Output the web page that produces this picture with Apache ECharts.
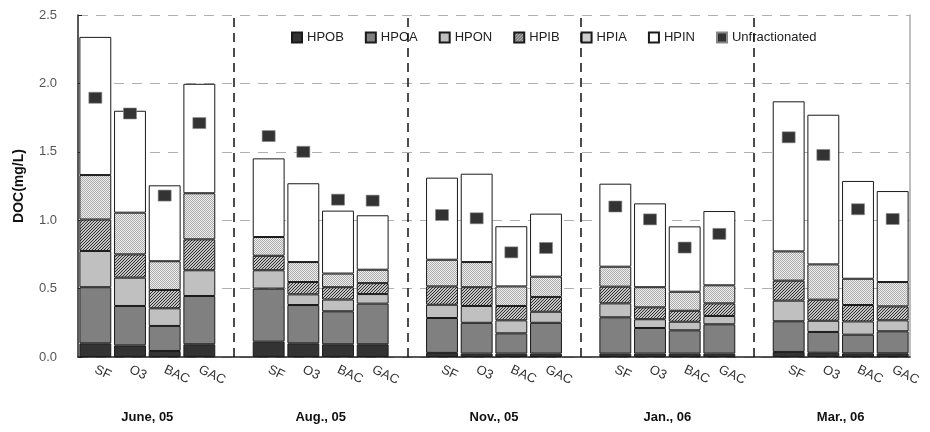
<!DOCTYPE html>
<html>
<head>
<meta charset="utf-8">
<script src="https://cdn.jsdelivr.net/npm/echarts@6/dist/echarts.min.js"></script>
<style>
  html, body { margin: 0; padding: 0; background: #fff; }
  #chart { width: 930px; height: 432px; }
</style>
</head>
<body>
<div id="chart"></div>
<script>
// sampling dates and treatment steps
const groups = ['June, 05', 'Aug., 05', 'Nov., 05', 'Jan., 06', 'Mar., 06'];
const treatments = ['SF', 'O3', 'BAC', 'GAC'];
const fractions = ['HPOB', 'HPOA', 'HPON', 'HPIB', 'HPIA', 'HPIN'];

// DOC (mg/L) per fraction, 4 treatments x 5 dates
const HPOB = [0.10, 0.085, 0.044, 0.093, 0.112, 0.10, 0.093, 0.093, 0.03, 0.025, 0.025, 0.025, 0.025, 0.025, 0.025, 0.025, 0.037, 0.031, 0.027, 0.027];
const HPOA = [0.41, 0.288, 0.183, 0.353, 0.388, 0.28, 0.241, 0.297, 0.255, 0.225, 0.148, 0.225, 0.265, 0.187, 0.17, 0.214, 0.224, 0.152, 0.136, 0.161];
const HPON = [0.265, 0.207, 0.129, 0.188, 0.134, 0.078, 0.086, 0.07, 0.097, 0.123, 0.095, 0.081, 0.102, 0.064, 0.063, 0.061, 0.151, 0.082, 0.097, 0.08];
const HPIB = [0.23, 0.17, 0.134, 0.226, 0.106, 0.09, 0.09, 0.08, 0.134, 0.137, 0.105, 0.108, 0.122, 0.087, 0.08, 0.092, 0.146, 0.154, 0.12, 0.102];
const HPIA = [0.325, 0.305, 0.21, 0.337, 0.137, 0.146, 0.10, 0.098, 0.195, 0.184, 0.143, 0.148, 0.146, 0.147, 0.139, 0.132, 0.214, 0.258, 0.192, 0.178];
const HPIN = [1.01, 0.745, 0.555, 0.80, 0.575, 0.576, 0.46, 0.398, 0.60, 0.646, 0.44, 0.461, 0.607, 0.613, 0.478, 0.543, 1.097, 1.094, 0.715, 0.665];
const unfractionated = [1.895, 1.78, 1.18, 1.71, 1.615, 1.50, 1.15, 1.143, 1.038, 1.014, 0.765, 0.797, 1.10, 1.006, 0.80, 0.90, 1.606, 1.477, 1.08, 1.009];

const yTicks = ['0.0', '0.5', '1.0', '1.5', '2.0', '2.5'];

// one empty slot between dates, dashed separator goes there
const categories = [];
const gapNames = [];
groups.forEach(function (g, gi) {
  treatments.forEach(function (t) { categories.push(g + '|' + t); });
  if (gi < groups.length - 1) {
    categories.push('gap' + gi);
    gapNames.push('gap' + gi);
  }
});
function spread(arr) {
  const out = [];
  let k = 0;
  groups.forEach(function (g, gi) {
    treatments.forEach(function () { out.push(arr[k++]); });
    if (gi < groups.length - 1) out.push('-');
  });
  return out;
}

function makePattern(w, h, bg, fg, pts) {
  const c = document.createElement('canvas');
  c.width = w; c.height = h;
  const ctx = c.getContext('2d');
  ctx.fillStyle = bg; ctx.fillRect(0, 0, w, h);
  ctx.fillStyle = fg;
  pts.forEach(function (p) { ctx.fillRect(p[0], p[1], 1, 1); });
  return { image: c, repeat: 'repeat' };
}
const hatch = makePattern(3, 3, '#c4c4c4', '#2e2e2e', [[0, 2], [1, 1], [2, 0]]);
const dots = makePattern(2, 2, '#eeeeee', '#acacac', [[0, 0], [1, 1]]);

const fills = {
  HPOB: '#333333',
  HPOA: '#808080',
  HPON: '#c0c0c0',
  HPIB: hatch,
  HPIA: dots,
  HPIN: '#ffffff'
};
const values = { HPOB: HPOB, HPOA: HPOA, HPON: HPON, HPIB: HPIB, HPIA: HPIA, HPIN: HPIN };

const font = '"Liberation Sans", Arial, sans-serif';

const series = fractions.map(function (f, i) {
  const s = {
    name: f,
    type: 'bar',
    stack: 'doc',
    barCategoryGap: '8%',
    itemStyle: { color: fills[f], borderColor: '#1a1a1a', borderWidth: 1 },
    data: spread(values[f])
  };
  if (i === 0) {
    s.markLine = {
      silent: true,
      symbol: 'none',
      label: { show: false },
      lineStyle: { color: '#111', type: [9, 6], width: 1.5 },
      data: gapNames.map(function (n) { return { xAxis: n }; })
    };
  }
  return s;
});
series.push({
  name: 'Unfractionated',
  type: 'scatter',
  symbol: 'rect',
  symbolSize: [13, 11],
  itemStyle: { color: '#333333', opacity: 1, borderColor: '#888', borderWidth: 0.6 },
  z: 5,
  data: spread(unfractionated)
});

const chart = echarts.init(document.getElementById('chart'));
chart.setOption({
  animation: false,
  textStyle: { fontFamily: font },
  legend: {
    left: 291,
    top: 31,
    padding: 0,
    itemGap: 21,
    itemWidth: 10,
    itemHeight: 10,
    icon: 'rect',
    textStyle: { fontSize: 13, color: '#222', fontFamily: font },
    data: fractions.concat(['Unfractionated'])
  },
  grid: { left: 78, right: 20, top: 15, bottom: 75 },
  xAxis: [{
    type: 'category',
    data: categories,
    axisLine: { lineStyle: { color: '#222', width: 1.5 } },
    axisTick: { show: false },
    axisLabel: {
      interval: 0,
      rotate: -25,
      margin: 12,
      fontSize: 13,
      color: '#333',
      formatter: function (v) { return v.indexOf('|') >= 0 ? v.split('|')[1] : ''; }
    }
  }, {
    type: 'value',
    position: 'bottom',
    min: 0,
    max: categories.length,
    offset: 46,
    axisLine: { show: false },
    axisTick: { show: false },
    splitLine: { show: false },
    axisLabel: {
      customValues: groups.map(function (g, i) { return i * 5 + 2; }),
      fontSize: 13,
      fontWeight: 'bold',
      color: '#111',
      formatter: function (v) { return groups[(v - 2) / 5]; }
    }
  }],
  yAxis: [{
    type: 'value',
    min: 0,
    max: 2.5,
    interval: 0.5,
    name: 'DOC(mg/L)',
    nameLocation: 'middle',
    nameGap: 52,
    nameTextStyle: { fontSize: 14, fontWeight: 'bold', color: '#111' },
    axisLine: { show: true, lineStyle: { color: '#222', width: 1.5 } },
    axisTick: { show: true, inside: true, length: 4, lineStyle: { color: '#222' } },
    splitLine: { lineStyle: { color: '#b0b0b0', type: [10, 8], width: 1.2 } },
    axisLabel: {
      margin: 21,
      fontSize: 13,
      color: '#555',
      formatter: function (v) { return yTicks[Math.round(v / 0.5)]; }
    }
  }, {
    type: 'value',
    position: 'right',
    min: 0,
    max: 2.5,
    interval: 0.5,
    axisLine: { show: true, lineStyle: { color: '#aaaaaa', width: 1.5 } },
    axisTick: { show: false },
    axisLabel: { show: false },
    splitLine: { show: false }
  }],
  series: series
});
</script>
</body>
</html>
